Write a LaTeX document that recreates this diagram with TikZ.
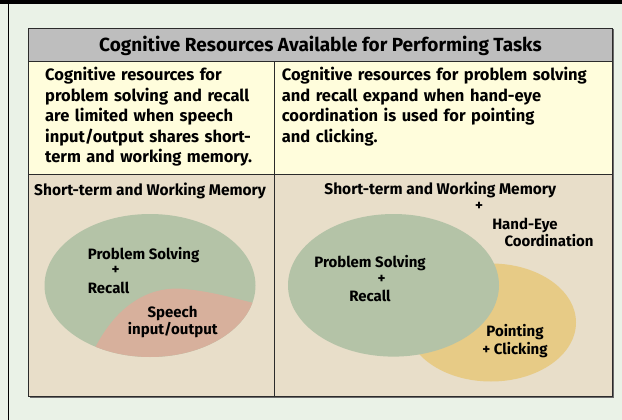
\documentclass[tikz,border=0pt]{standalone}
\usepackage{fontspec}
\setmainfont{Fira Sans}
\definecolor{pagebg}{HTML}{EAF2E7}
\definecolor{headgray}{HTML}{BEBEBE}
\definecolor{noteyellow}{HTML}{FFFDDC}
\definecolor{memorybeige}{HTML}{E8DEC9}
\definecolor{solvegreen}{HTML}{B4C3A7}
\definecolor{speechpink}{HTML}{D7B09C}
\definecolor{pointyellow}{HTML}{E7CB86}
\definecolor{rulegray}{HTML}{2B2B2B}
\tikzset{
  bodytext/.style={font=\fontsize{15}{20.5}\selectfont\bfseries, inner sep=0pt},
  headtext/.style={font=\fontsize{15.5}{20}\selectfont\bfseries, inner sep=0pt},
  titletext/.style={font=\fontsize{19}{20}\selectfont\bfseries, inner sep=0pt},
  notetext/.style={font=\fontsize{16.5}{20.5}\selectfont\bfseries, inner sep=0pt, align=left, anchor=base west},
}
\begin{document}
\begin{tikzpicture}[x=1pt,y=-1pt]
    \useasboundingbox[fill=pagebg] (0,0) rectangle (622,420);
    \fill[black] (0,0) rectangle (622,4);
    \draw[black,line width=1pt] (8,4) -- (8,420);
    % cells
    \fill[headgray] (28.7,28.7) rectangle (612.5,61.7);
    \fill[noteyellow] (28.7,61.7) rectangle (612.5,174);
    \fill[memorybeige] (28.7,174) rectangle (612.5,396);
    % speech shares memory
    \fill[solvegreen] (150,285.5) ellipse [x radius=105.5, y radius=71.5];
    \begin{scope}
        \clip (150,285.5) ellipse [x radius=105.5, y radius=71.5];
        \fill[speechpink] (96,346) .. controls (115,310) and (145,285) .. (185,289)
            .. controls (215,292) and (240,300) .. (258,304) -- (262,370) -- (80,370) -- cycle;
    \end{scope}
    % hand-eye adds room
    \fill[pointyellow] (491,322.5) ellipse [x radius=85, y radius=59];
    \fill[solvegreen] (393.5,285.3) ellipse [x radius=105.5, y radius=71.3];
    % rules
    \draw[rulegray,line width=1pt] (28.7,61.7) -- (612.5,61.7) (28.7,174) -- (612.5,174) (274,61.7) -- (274,396);
    \draw[rulegray!70,line width=1pt] (613.5,29.5) -- (613.5,397) -- (29.5,397);
    \draw[rulegray,line width=1pt] (28.7,28.7) rectangle (612.5,396);
    % texts
    \node[titletext,anchor=base] (title) at (320.5,51.5) {Cognitive Resources Available for Performing Tasks};
    \node[notetext,text width=225pt] (limitnote) at (45,81) {Cognitive resources for\\problem solving and recall\\are limited when speech\\input/output shares short-\\term and working memory.};
    \node[notetext,text width=325pt] (expandnote) at (281.7,81) {Cognitive resources for problem solving\\and recall expand when hand-eye\\coordination is used for pointing\\and clicking.};
    \node[headtext,anchor=base west] (leftmem) at (34,195) {Short-term and Working Memory};
    \node[bodytext,anchor=base west] (leftsolve) at (87.7,259) {Problem Solving};
    \node[bodytext] (leftplus) at (115.7,270) {+};
    \node[bodytext,anchor=base west] (leftrecall) at (87.7,293.3) {Recall};
    \node[bodytext,anchor=base] (speech) at (172.6,317.7) {Speech};
    \node[bodytext,anchor=base] (speechio) at (172.8,334.3) {input/output};
    \node[headtext,anchor=base] (rightmem) at (440.3,194.3) {Short-term and Working Memory};
    \node[bodytext] (memplus) at (479,206) {+};
    \node[bodytext,anchor=base] (handeye) at (525,229.3) {Hand-Eye};
    \node[bodytext,anchor=base] (coord) at (549,246) {Coordination};
    \node[bodytext,anchor=base] (rightsolve) at (370,267.3) {Problem Solving};
    \node[bodytext] (rightplus) at (381.7,279) {+};
    \node[bodytext,anchor=base] (rightrecall) at (370,301.7) {Recall};
    \node[bodytext,anchor=base] (pointing) at (515,336.7) {Pointing};
    \node[bodytext,anchor=base] (clicking) at (515,354) {+ Clicking};
\end{tikzpicture}
\end{document}
